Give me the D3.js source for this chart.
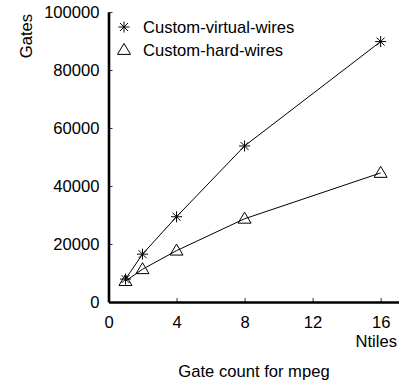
<!DOCTYPE html>
<html>
<head>
<meta charset="utf-8">
<script src="https://cdn.jsdelivr.net/npm/d3@7.9.0/dist/d3.min.js"></script>
<style>
  body { margin: 0; background: #fff; }
  svg { display: block; font-family: "Liberation Sans", Arial, sans-serif; }
</style>
</head>
<body>
<svg id="chart" width="403" height="387"></svg>
<script>
// values
const ntiles = [1, 2, 4, 8, 16];
const virtualWires = [7900, 16500, 29400, 53800, 89800];
const hardWires = [7200, 11300, 17700, 28700, 44500];
const seriesNames = ['Custom-virtual-wires', 'Custom-hard-wires'];
const xTicks = [0, 4, 8, 12, 16];
const yTicks = [0, 20000, 40000, 60000, 80000, 100000];

const svg = d3.select('#chart');
const fontSize = 16.6;

const x = d3.scaleLinear().domain([0, 17.05]).range([108.5, 398.5]);
const y = d3.scaleLinear().domain([0, 100000]).range([302, 12]);

// axes, ticks pointing inward
const xAxis = svg.append('g')
  .attr('transform', `translate(0,${y(0)})`)
  .call(d3.axisBottom(x).tickValues(xTicks).tickFormat(d3.format('d'))
    .tickSizeInner(-4).tickSizeOuter(0).tickPadding(14));
const yAxis = svg.append('g')
  .attr('transform', `translate(${x(0)},0)`)
  .call(d3.axisLeft(y).tickValues(yTicks).tickFormat(d3.format('d'))
    .tickSizeInner(-4).tickSizeOuter(0).tickPadding(9));

[xAxis, yAxis].forEach(g => {
  g.select('.domain').attr('stroke', '#000').attr('stroke-width', 2.6);
  g.selectAll('.tick line').attr('stroke', '#000').attr('stroke-width', 0.8);
  g.selectAll('.tick text').attr('fill', '#000').attr('font-size', fontSize)
    .attr('font-family', '"Liberation Sans", Arial, sans-serif');
});
xAxis.selectAll('.tick').filter(d => d === 0).select('line').remove();
yAxis.selectAll('.tick').filter(d => d === 0).select('line').remove();

// axis titles
svg.append('text')
  .attr('transform', 'translate(32,36) rotate(-90)')
  .attr('text-anchor', 'middle')
  .attr('font-size', fontSize)
  .text('Gates');
svg.append('text')
  .attr('x', 397).attr('y', 347)
  .attr('text-anchor', 'end')
  .attr('font-size', fontSize)
  .text('Ntiles');
svg.append('text')
  .attr('x', 254).attr('y', 377)
  .attr('text-anchor', 'middle')
  .attr('font-size', fontSize)
  .text('Gate count for mpeg');

const line = d3.line().x(d => x(d[0])).y(d => y(d[1]));

function star(g, cx, cy) {
  const r = 5.5, d = r * 0.72;
  g.append('path')
    .attr('d', `M${cx},${cy - r}V${cy + r}M${cx - r},${cy}H${cx + r}` +
      `M${cx - d},${cy - d}L${cx + d},${cy + d}M${cx - d},${cy + d}L${cx + d},${cy - d}`)
    .attr('stroke', '#000').attr('stroke-width', 1).attr('fill', 'none');
}
function triangle(g, cx, cy) {
  const h = 11, w = 13;
  g.append('path')
    .attr('d', `M${cx},${cy - h * 0.6}L${cx + w / 2},${cy + h * 0.4}L${cx - w / 2},${cy + h * 0.4}Z`)
    .attr('stroke', '#000').attr('stroke-width', 1).attr('fill', 'none');
}

const series = [
  { name: seriesNames[0], values: virtualWires, marker: star },
  { name: seriesNames[1], values: hardWires, marker: triangle }
];

series.forEach((s, si) => {
  const pts = ntiles.map((n, i) => [n, s.values[i]]);
  svg.append('path')
    .attr('d', line(pts))
    .attr('fill', 'none')
    .attr('stroke', '#000')
    .attr('stroke-width', 1);
  const g = svg.append('g');
  pts.forEach(p => s.marker(g, x(p[0]), y(p[1])));

  // legend
  const ly = 27 + si * 23;
  s.marker(svg, 124, ly);
  svg.append('text')
    .attr('x', 143).attr('y', ly + 6)
    .attr('font-size', fontSize)
    .text(s.name);
});
</script>
</body>
</html>
